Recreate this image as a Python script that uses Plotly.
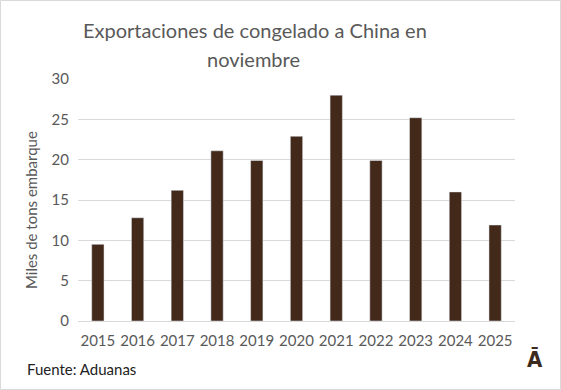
import plotly.graph_objects as go

years = ["2015", "2016", "2017", "2018", "2019", "2020", "2021", "2022", "2023", "2024", "2025"]
values = [9.5, 12.8, 16.2, 21.1, 19.9, 22.9, 28.0, 19.9, 25.2, 16.0, 11.9]
title_lines = ["Exportaciones de congelado a China en", "noviembre"]

W, H = 561, 390
L, R, T, B = 78, 46, 79, 69
pw, ph = W - L - R, H - T - B

FONT = "Lato, Open Sans, sans-serif"
TXT = "#595959"
BAR = "#42291a"

fig = go.Figure(go.Bar(x=years, y=values, marker_color=BAR, width=0.31))

def px_x(p):
    return (p - L) / pw

def px_y(p):
    return (H - B - p) / ph

annotations = [
    dict(text=title_lines[0], xref="paper", yref="paper",
         x=px_x(255), y=px_y(30), xanchor="center", yanchor="middle", showarrow=False,
         font=dict(size=20, color=TXT, family=FONT)),
    dict(text=title_lines[1], xref="paper", yref="paper",
         x=px_x(253), y=px_y(59), xanchor="center", yanchor="middle", showarrow=False,
         font=dict(size=20, color=TXT, family=FONT)),
    dict(text="Miles de tons embarque", xref="paper", yref="paper", textangle=-90,
         x=px_x(31), y=px_y(210), xanchor="center", yanchor="middle", showarrow=False,
         font=dict(size=15, color=TXT, family=FONT)),
    dict(text="Fuente: Aduanas", xref="paper", yref="paper",
         x=px_x(25), y=px_y(369), xanchor="left", yanchor="middle", showarrow=False,
         font=dict(size=15, color="#222222", family=FONT)),
    dict(text="<b>Ā</b>", xref="paper", yref="paper",
         x=px_x(535), y=px_y(359), xanchor="center", yanchor="middle", showarrow=False,
         font=dict(size=22, color="#3b2a1d", family="Liberation Sans Narrow, DejaVu Sans Condensed, sans-serif")),
]

fig.update_layout(
    width=W, height=H,
    margin=dict(l=L, r=R, t=T, b=B),
    paper_bgcolor="white", plot_bgcolor="white",
    font=dict(family=FONT, color=TXT),
    showlegend=False,
    xaxis=dict(
        type="category", showgrid=False, showline=True, linecolor="#d9d9d9", linewidth=1,
        ticks="", tickfont=dict(size=15, color=TXT, family=FONT), ticklabelstandoff=6,
    ),
    yaxis=dict(
        range=[0, 30], dtick=5, showgrid=True, gridcolor="#d9d9d9", gridwidth=1,
        zeroline=False, showline=False, ticks="",
        tickfont=dict(size=15, color=TXT, family=FONT), ticklabelstandoff=8,
    ),
    annotations=annotations,
    shapes=[
        dict(type="rect", xref="paper", yref="paper",
             x0=px_x(0.5), x1=px_x(W - 0.5), y0=px_y(H - 0.5), y1=px_y(0.5),
             line=dict(color="#d9d9d9", width=1), fillcolor="rgba(0,0,0,0)", layer="below"),
    ],
)

fig.write_html("out.html", config={"displayModeBar": False},
               post_script="document.body.style.margin='0';document.body.style.overflow='hidden';")
